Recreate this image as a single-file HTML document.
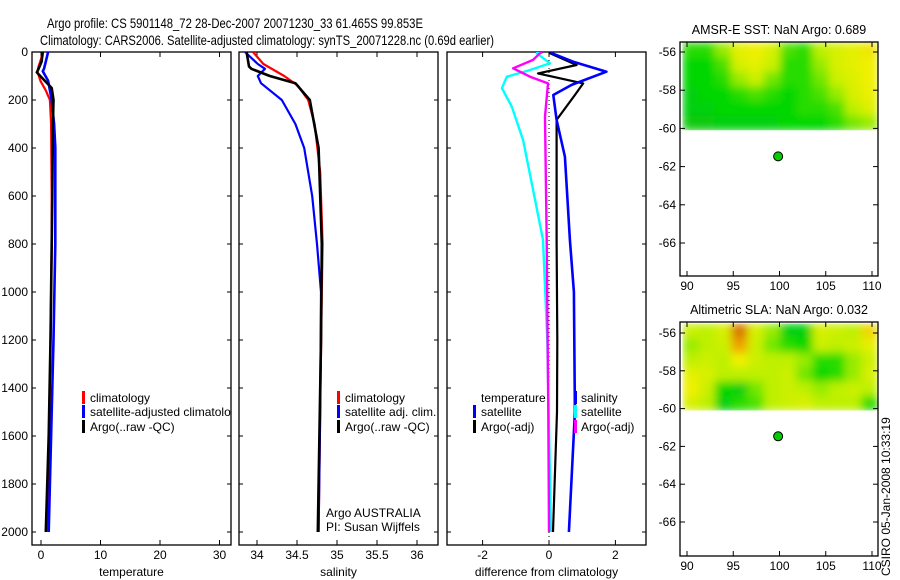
<!DOCTYPE html>
<html><head><meta charset="utf-8"><style>
html,body{margin:0;padding:0;background:#fff}
svg{display:block;font-family:"Liberation Sans",sans-serif}
</style></head><body>
<svg id="fig" width="900" height="580" viewBox="0 0 900 580" xmlns="http://www.w3.org/2000/svg">
<defs>
<filter id="smooth" x="-5%" y="-5%" width="110%" height="110%"><feGaussianBlur stdDeviation="4.5" edgeMode="duplicate"/></filter>
</defs>
</svg>
<script>
// ---------- DATA ----------
const depthTicks=[0,200,400,600,800,1000,1200,1400,1600,1800,2000];
const tempTicks=[0,10,20,30];
const salTicks=[34,34.5,35,35.5,36];
const diffTicks=[-2,0,2];
const lonTicks=[90,95,100,105,110];
const latTicks=[-56,-58,-60,-62,-64,-66];

const tClimD=[0,30,60,80,120,160,200,300,600,800,1200,1600,2000];
const tClimV=[0.3,0,-0.4,-0.6,-0.1,0.8,1.5,1.7,1.8,1.8,1.6,1.4,1.1];
const tSatD=[0,40,70,80,120,200,300,400,800,1200,1600,2000];
const tSatV=[1.2,0.8,0.5,0.3,1.2,1.8,2.2,2.4,2.4,2.1,1.7,1.3];
const tArgoD=[0,40,70,85,150,200,300,600,800,1200,1600,2000];
const tArgoV=[0.3,0.1,-0.4,-0.7,1.8,2.1,2.0,1.9,1.8,1.6,1.3,0.8];

const sClimD=[0,50,100,140,200,300,500,800,1000,1500,2000];
const sClimV=[33.95,34.08,34.34,34.51,34.64,34.72,34.79,34.82,34.81,34.79,34.77];
const sSatD=[0,50,70,100,130,200,300,400,600,800,1000,1500,2000];
const sSatV=[33.85,34.01,34.1,34.01,34.05,34.31,34.48,34.59,34.69,34.75,34.8,34.79,34.77];
const sArgoD=[0,60,70,100,130,200,400,800,1200,1600,2000];
const sArgoV=[33.87,33.9,33.93,34.16,34.48,34.66,34.77,34.81,34.8,34.78,34.76];

const dTSatD=[0,5,40,82,137,179,283,436,783,1000,1500,2000];
const dTSatV=[0.1,0.08,0.72,1.73,0.68,0.13,0.23,0.48,0.63,0.75,0.78,0.6];
const dTArgoD=[0,5,54,89,131,179,283,783,1200,1500,2000];
const dTArgoV=[0.05,0.03,0.83,-0.33,1.03,0.78,0.23,0.23,0.25,0.24,0.12];
const dSSatD=[0,5,47,75,103,151,228,367,575,783,1200,2000];
const dSSatV=[-0.2,-0.37,0.03,-0.57,-1.27,-1.42,-1.12,-0.78,-0.48,-0.18,-0.05,0.06];
const dSArgoD=[0,5,33,68,103,131,269,783,1500,2000];
const dSArgoV=[-0.2,-0.27,-0.48,-1.08,-0.57,-0.03,-0.12,-0.07,-0.02,0];

const sstGrid=[
[.3,.3,.45,.65,.7,.6,.35,.3,.5,.6,.65,.72],
[.25,.25,.35,.6,.65,.55,.3,.3,.45,.6,.65,.7],
[.25,.25,.3,.45,.55,.4,.3,.3,.4,.55,.62,.7],
[.2,.25,.25,.3,.35,.3,.25,.3,.35,.45,.6,.68],
[.2,.2,.25,.25,.25,.25,.25,.3,.3,.35,.5,.62],
[.15,.15,.2,.2,.2,.2,.25,.25,.25,.3,.4,.45]];
const slaGrid=[
[.55,.5,.6,.92,.6,.45,.2,.2,.6,.55,.5,.75],
[.45,.5,.55,.85,.55,.4,.3,.25,.55,.5,.55,.65],
[.5,.55,.5,.7,.55,.5,.5,.45,.3,.3,.45,.55],
[.65,.6,.5,.5,.5,.5,.55,.4,.25,.3,.45,.6],
[.7,.55,.25,.2,.4,.5,.55,.5,.45,.5,.55,.5],
[.6,.5,.2,.3,.35,.5,.55,.6,.5,.5,.5,.3]];
const gridLon=[89.5,110.6], gridLat=[-55.5,-60.1];
const argoLon=99.853, argoLat=-61.465;

// ---------- HELPERS ----------
const NS="http://www.w3.org/2000/svg", svg=document.getElementById('fig');
function mk(tag,attrs,parent){const e=document.createElementNS(NS,tag);for(const k in attrs)e.setAttribute(k,attrs[k]);(parent||svg).appendChild(e);return e;}
function txt(s,x,y,o,parent){const e=mk('text',Object.assign({x:x,y:y,'font-size':12,fill:'#000'},o||{}),parent);e.textContent=s;return e;}
const yD=d=>52+d*0.24;
const panels=[
 {x0:32,x1:231,xs:v=>41+v*5.95,ticks:tempTicks,title:'temperature',name:'temperature'},
 {x0:239,x1:438,xs:v=>257+(v-34)*80,ticks:salTicks,title:'salinity',name:'salinity'},
 {x0:447,x1:646,xs:v=>549+v*33.2,ticks:diffTicks,title:'difference from climatology',name:'difference'}];
const PT=52,PB=545;

let t1=txt('Argo profile: CS 5901148_72 28-Dec-2007 20071230_33 61.465S 99.853E',47,28,{'font-size':14,textLength:376,lengthAdjust:'spacingAndGlyphs'});
 
let t2=txt('Climatology: CARS2006. Satellite-adjusted climatology: synTS_20071228.nc (0.69d earlier)',40,45,{'font-size':14,textLength:454,lengthAdjust:'spacingAndGlyphs'});
 

panels.forEach((p,i)=>{
 const g=mk('g',{});
 
 
 const cp=mk('clipPath',{id:'cp'+i},g); mk('rect',{x:p.x0,y:PT,width:p.x1-p.x0,height:PB-PT},cp);
 mk('rect',{x:p.x0,y:PT,width:p.x1-p.x0,height:PB-PT,fill:'none',stroke:'#000','stroke-width':1.3},g);
 depthTicks.forEach(d=>{const y=yD(d);
  mk('line',{x1:p.x0,x2:p.x0+4,y1:y,y2:y,stroke:'#000'},g);
  mk('line',{x1:p.x1,x2:p.x1-4,y1:y,y2:y,stroke:'#000'},g);
  if(i==0){const l=txt(String(d),28,y+4,{'text-anchor':'end'},g);
   
   }
 });
 p.ticks.forEach(v=>{const x=p.xs(v);
  mk('line',{x1:x,x2:x,y1:PB,y2:PB-5,stroke:'#000'},g);
  mk('line',{x1:x,x2:x,y1:PT,y2:PT+5,stroke:'#000'},g);
  const l=txt(String(v),x,559,{'text-anchor':'middle'},g);
  
  
 });
 const at=txt(p.title,(p.x0+p.x1)/2,576,{'text-anchor':'middle'},g);
 
 
 p.g=mk('g',{'clip-path':'url(#cp'+i+')'},g);
});

function line(p,D,V,color,name,w){
 const pts=D.map((d,k)=>p.xs(V[k]).toFixed(1)+','+yD(d).toFixed(1)).join(' ');
 const e=mk('polyline',{points:pts,fill:'none',stroke:color,'stroke-width':w||2.2,'stroke-linejoin':'round'},p.g);
 
 
}
line(panels[0],tClimD,tClimV,'#f00','temp-climatology-line');
line(panels[0],tSatD,tSatV,'#00f','temp-satellite-line',2.6);
line(panels[0],tArgoD,tArgoV,'#000','temp-argo-line',2.6);
line(panels[1],sClimD,sClimV,'#f00','sal-climatology-line');
line(panels[1],sSatD,sSatV,'#00f','sal-satellite-line');
line(panels[1],sArgoD,sArgoV,'#000','sal-argo-line',2.6);
const zl=mk('line',{x1:panels[2].xs(0),x2:panels[2].xs(0),y1:PT,y2:PB,stroke:'#000','stroke-dasharray':'1,3'},panels[2].g);
 
line(panels[2],dSSatD,dSSatV,'#0ff','sal-diff-satellite-line',2.4);
line(panels[2],dSArgoD,dSArgoV,'#f0f','sal-diff-argo-line',2.4);
line(panels[2],dTArgoD,dTArgoV,'#000','temp-diff-argo-line',2.2);
line(panels[2],dTSatD,dTSatV,'#00f','temp-diff-satellite-line',2.6);

function leg(mx,tx,y,color,label,parent){
 if(color){const m=mk('rect',{x:mx,y:y-11,width:3,height:13,fill:color},parent);
   }
 const t=txt(label,tx,y,{},parent);
  
}
leg(82,90,402,'#f00','climatology',panels[0].g);
leg(82,90,416,'#00f','satellite-adjusted climatology',panels[0].g);
leg(82,90,431,'#000','Argo(..raw -QC)',panels[0].g);
leg(337,345,402,'#f00','climatology',panels[1].g);
leg(337,345,416,'#00f','satellite adj. clim.',panels[1].g);
leg(337,345,431,'#000','Argo(..raw -QC)',panels[1].g);
leg(0,326,517,null,'Argo AUSTRALIA',panels[1].g);
leg(0,326,531,null,'PI: Susan Wijffels',panels[1].g);
leg(0,481,402,null,'temperature',panels[2].g);
leg(473,481,416,'#00f','satellite',panels[2].g);
leg(473,481,431,'#000','Argo(-adj)',panels[2].g);
leg(574,581,402,'#00f','salinity',panels[2].g);
leg(574,581,416,'#0ff','satellite',panels[2].g);
leg(574,581,431,'#f0f','Argo(-adj)',panels[2].g);

// ---------- MAPS ----------
const stops=[[0,[20,180,40]],[0.25,[0,215,0]],[0.5,[190,240,0]],[0.7,[240,240,0]],[0.85,[240,160,0]],[1,[190,60,0]]];
function cmap(v){for(let k=1;k<stops.length;k++){if(v<=stops[k][0]){const a=stops[k-1],b=stops[k],f=(v-a[0])/(b[0]-a[0]);return 'rgb('+a[1].map((c,j)=>Math.round(c+(b[1][j]-c)*f)).join(',')+')';}}return 'rgb(190,60,0)';}
let mapId=0;
function drawMap(top,title,grid,name,lat56y,pxDeg){
 const x0=680,x1=878,y0=top,y1=top+234;
 const xL=lon=>687+(lon-90)*9.25, yL=lat=>lat56y+(-56-lat)*pxDeg;
 const g=mk('g',{});
 
 
 const tt=txt(title,x0+(x1-x0)/2,y0-8,{'text-anchor':'middle','font-size':12.5},g);
  
 const nr=grid.length,nc=grid[0].length;
 const gx=xL(gridLon[0]), gy=Math.max(y0,yL(gridLat[0]));
 const gw=xL(gridLon[1])-gx, gh=yL(gridLat[1])-gy;
 const cw=gw/nc, ch=gh/nr;
 const cid='mapclip'+(mapId++);
 const cp=mk('clipPath',{id:cid},g); mk('rect',{x:gx,y:gy,width:gw,height:gh},cp);
 const outer=mk('g',{'clip-path':'url(#'+cid+')'},g);
 const cells=mk('g',{filter:'url(#smooth)'},outer);
 grid.forEach((row,r)=>row.forEach((v,c)=>{
  const cell=mk('rect',{x:(gx+c*cw).toFixed(2),y:(gy+r*ch).toFixed(2),width:(cw+0.6).toFixed(2),height:(ch+0.6).toFixed(2),fill:cmap(v)},cells);
  
  
 }));
 mk('rect',{x:x0,y:y0,width:x1-x0,height:y1-y0,fill:'none',stroke:'#000','stroke-width':1.3},g);
 lonTicks.forEach(l=>{const x=xL(l);
  mk('line',{x1:x,x2:x,y1:y1,y2:y1-5,stroke:'#000'},g);
  mk('line',{x1:x,x2:x,y1:y0,y2:y0+5,stroke:'#000'},g);
  const lb=txt(String(l),x,y1+14,{'text-anchor':'middle'},g);
   });
 latTicks.forEach(l=>{const y=yL(l);
  mk('line',{x1:x0,x2:x0+5,y1:y,y2:y,stroke:'#000'},g);
  mk('line',{x1:x1,x2:x1-5,y1:y,y2:y,stroke:'#000'},g);
  const lb=txt(String(l),x0-4,y+4,{'text-anchor':'end'},g);
   });
 const dot=mk('circle',{cx:xL(argoLon),cy:yL(argoLat),r:4.5,fill:'#0c0',stroke:'#000','stroke-width':1},g);
 
 
}
drawMap(42,'AMSR-E SST: NaN Argo: 0.689',sstGrid,'sst-map',52,19.1);
drawMap(322,'Altimetric SLA: NaN Argo: 0.032',slaGrid,'sla-map',333,18.9);

const st=txt('CSIRO 05-Jan-2008 10:33:19',0,0,{transform:'translate(890,576) rotate(-90)','font-size':12});


</script>
</body></html>
